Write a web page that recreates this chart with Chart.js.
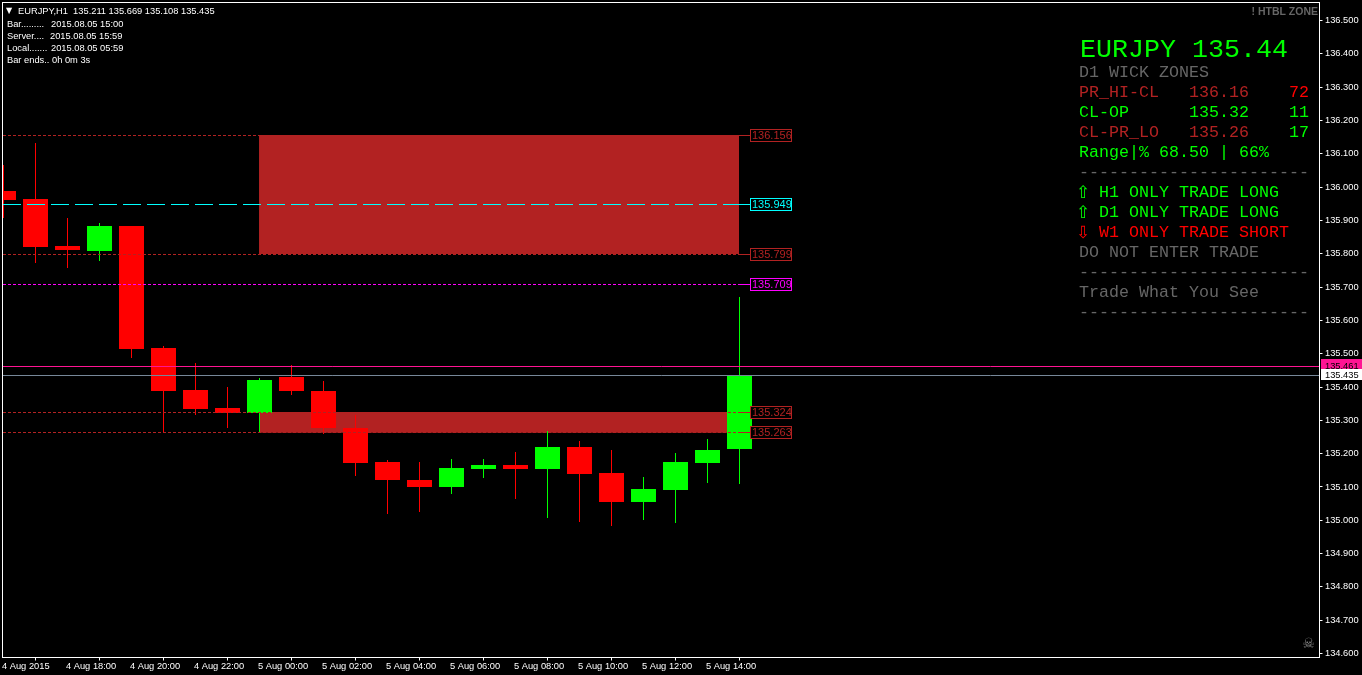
<!DOCTYPE html>
<html>
<head>
<meta charset="utf-8">
<title>EURJPY,H1</title>
<script src="https://cdn.jsdelivr.net/npm/chart.js@4/dist/chart.umd.min.js"></script>
<style>
  html, body { margin: 0; padding: 0; background: #000; overflow: hidden; }
  canvas { display: block; }
</style>
</head>
<body>
<canvas id="mtChart" width="1362" height="675"></canvas>
<script>
// H1 bars, oldest first. Index 0 is the 16:00 bar cut by the left edge.
const opens  = [135.987, 135.963, 135.822, 135.807, 135.882, 135.516, 135.390, 135.336, 135.321, 135.429, 135.387, 135.276,
                135.173, 135.119, 135.098, 135.152, 135.164, 135.152, 135.218, 135.140, 135.053, 135.089, 135.170, 135.211];
const highs  = [136.065, 136.131, 135.906, 135.891, 135.883, 135.522, 135.471, 135.399, 135.426, 135.465, 135.417, 135.315,
                135.179, 135.173, 135.182, 135.182, 135.203, 135.267, 135.237, 135.209, 135.128, 135.200, 135.242, 135.669];
const lows   = [135.907, 135.772, 135.757, 135.778, 135.487, 135.260, 135.315, 135.276, 135.260, 135.375, 135.258, 135.131,
                135.017, 135.023, 135.077, 135.125, 135.062, 135.005, 134.993, 134.981, 134.999, 134.990, 135.110, 135.108];
const closes = [135.960, 135.819, 135.810, 135.882, 135.513, 135.387, 135.333, 135.321, 135.420, 135.387, 135.276, 135.170,
                135.119, 135.098, 135.155, 135.164, 135.152, 135.218, 135.137, 135.053, 135.092, 135.173, 135.209, 135.435];

const xTickIndex  = [0, 2, 4, 6, 8, 10, 12, 14, 16, 18, 20, 22];
const xTickLabels = ['4 Aug 2015', '4 Aug 18:00', '4 Aug 20:00', '4 Aug 22:00', '5 Aug 00:00', '5 Aug 02:00',
                     '5 Aug 04:00', '5 Aug 06:00', '5 Aug 08:00', '5 Aug 10:00', '5 Aug 12:00', '5 Aug 14:00'];
const yTicks = [136.5, 136.4, 136.3, 136.2, 136.1, 136.0, 135.9, 135.8, 135.7, 135.6, 135.5,
                135.4, 135.3, 135.2, 135.1, 135.0, 134.9, 134.8, 134.7, 134.6];

const zoneTops    = [136.156, 135.324];
const zoneBottoms = [135.799, 135.263];
const zoneFrom = 7.985;
const zoneTo   = 22.985;

const levelPrices = [136.156, 135.949, 135.799, 135.709, 135.324, 135.263];
const levelNames  = ['136.156', '135.949', '135.799', '135.709', '135.324', '135.263'];

const bidPrices = [135.461, 135.435];
const bidNames  = ['135.461', '135.435'];

const FIREBRICK = '#b22222', LIME = '#00ff00', RED = '#ff0000', DIM = '#666666';
const levelColors = [FIREBRICK, '#00ffff', FIREBRICK, '#ff00ff', FIREBRICK, FIREBRICK];
const levelDashes = [[3, 2], [18, 6], [3, 2], [3, 2], [3, 2], [3, 2]];
const bidColors = ['#ff1493', '#778899'];
const bidTagFills = ['#ff1493', '#ffffff'];

const X_MIN = -1 / 64, X_MAX = 41.125, LEVEL_END = 23.328, STUB_START = 23;
const UI_FONT = '"Liberation Sans", Arial, sans-serif';
const MONO_FONT = '"Liberation Mono", monospace';

// text, x, baseline
const headerRows = [
  ['EURJPY,H1  135.211 135.669 135.108 135.435', 18, 14],
  ['Bar.........', 7, 27], ['2015.08.05 15:00', 51, 27],
  ['Server....', 7, 39], ['2015.08.05 15:59', 50, 39],
  ['Local.......', 7, 51], ['2015.08.05 05:59', 51, 51],
  ['Bar ends..', 7, 63], ['0h 0m 3s', 52, 63],
];

// text, x, baseline, colour
const panelRows = [
  ['D1 WICK ZONES', 1079, 77, DIM],
  ['PR_HI-CL', 1079, 97, FIREBRICK], ['136.16', 1189, 97, FIREBRICK], ['72', 1289, 97, RED],
  ['CL-OP', 1079, 117, LIME], ['135.32', 1189, 117, LIME], ['11', 1289, 117, LIME],
  ['CL-PR_LO', 1079, 137, FIREBRICK], ['135.26', 1189, 137, FIREBRICK], ['17', 1289, 137, LIME],
  ['Range|% 68.50 | 66%', 1079, 157, LIME],
  ['-----------------------', 1079, 177, DIM],
  ['H1 ONLY TRADE LONG', 1099, 197, LIME],
  ['D1 ONLY TRADE LONG', 1099, 217, LIME],
  ['W1 ONLY TRADE SHORT', 1099, 237, RED],
  ['DO NOT ENTER TRADE', 1079, 257, DIM],
  ['-----------------------', 1079, 277, DIM],
  ['Trade What You See', 1079, 297, DIM],
  ['-----------------------', 1079, 317, DIM],
];
const panelArrows = [['⇧', 1076, 198, LIME], ['⇧', 1076, 218, LIME], ['⇩', 1076, 238, RED]];

const barColors = closes.map((c, i) => (c >= opens[i] ? LIME : RED));

function flatLine(price, from, to, color, dash, order) {
  return {
    type: 'line',
    data: [{ x: from, y: price }, { x: to, y: price }],
    borderColor: color,
    borderWidth: 1,
    borderDash: dash,
    pointRadius: 0,
    fill: false,
    order,
  };
}

const datasets = [];
zoneTops.forEach((top, i) => {
  datasets.push({
    type: 'line',
    isZone: true,
    data: [{ x: zoneFrom, y: top }, { x: zoneTo, y: top }],
    borderWidth: 0,
    pointRadius: 0,
    backgroundColor: FIREBRICK,
    fill: { target: { value: zoneBottoms[i] } },
    order: 6,
  });
});
datasets.push({
  type: 'bar',
  data: opens.map((_, i) => ({ x: i, y: [lows[i], highs[i]] })),
  backgroundColor: barColors,
  barThickness: 1,
  grouped: false,
  inflateAmount: 0,
  order: 5,
});
datasets.push({
  type: 'bar',
  data: opens.map((o, i) => ({ x: i, y: [o, closes[i]] })),
  backgroundColor: barColors,
  barThickness: 25,
  grouped: false,
  inflateAmount: 0,
  order: 4,
});
levelPrices.forEach((p, i) => {
  datasets.push(flatLine(p, X_MIN, LEVEL_END, levelColors[i], levelDashes[i], 2));
  datasets.push(flatLine(p, STUB_START, LEVEL_END, levelColors[i], [], 2));
});
bidPrices.forEach((p, i) => datasets.push(flatLine(p, X_MIN, X_MAX, bidColors[i], [], 1)));

// MT4 draws on whole pixels, so snap what the scales hand back
const pixelSnap = {
  id: 'pixelSnap',
  afterDatasetsUpdate(chart) {
    chart.data.datasets.forEach((ds, i) => {
      const meta = chart.getDatasetMeta(i);
      meta.data.forEach(el => {
        if (ds.type === 'bar') {
          el.y = Math.round(el.y - 0.5);
          el.base = Math.round(el.base - 0.5);
        } else {
          el.y = ds.isZone ? Math.floor(el.y) : Math.floor(el.y) + 0.5;
        }
      });
    });
  },
};

const overlay = {
  id: 'overlay',
  afterDraw(chart) {
    const { ctx, chartArea: a, scales: { x, y } } = chart;
    ctx.save();

    // frame
    ctx.strokeStyle = '#ffffff';
    ctx.lineWidth = 1;
    ctx.strokeRect(2.5, 2.5, a.right - 2.5, a.bottom - 2.5);

    // level boxes
    const boxLeft = Math.round(x.getPixelForValue(LEVEL_END));
    ctx.font = '11px ' + UI_FONT;
    ctx.textBaseline = 'alphabetic';
    ctx.textAlign = 'left';
    levelPrices.forEach((p, i) => {
      const py = Math.floor(y.getPixelForValue(p));
      ctx.fillStyle = '#000000';
      ctx.fillRect(boxLeft, py - 6, 42, 13);
      ctx.strokeStyle = levelColors[i];
      ctx.strokeRect(boxLeft + 0.5, py - 5.5, 41, 12);
      ctx.fillStyle = levelColors[i];
      ctx.fillText(levelNames[i], boxLeft + 2, py + 4);
    });

    // bid/ask tags on the price axis
    ctx.font = '9.3px ' + UI_FONT;
    bidPrices.forEach((p, i) => {
      const py = Math.floor(y.getPixelForValue(p));
      const top = i === 0 ? py - 7 : py - 6;
      ctx.fillStyle = bidTagFills[i];
      ctx.fillRect(a.right + 1.5, top, 1362 - a.right, i === 0 ? 12 : 11);
      ctx.fillStyle = '#000000';
      ctx.fillText(bidNames[i], 1325, py + 3);
    });

    // header block
    ctx.fillStyle = '#ffffff';
    ctx.font = '9.3px ' + UI_FONT;
    headerRows.forEach(r => ctx.fillText(r[0], r[1], r[2]));
    ctx.font = '8px "DejaVu Sans"';
    ctx.fillText('▼', 6, 13);

    // symbol name, indicator panel
    ctx.font = '26.67px ' + MONO_FONT;
    ctx.fillStyle = LIME;
    ctx.fillText('EURJPY 135.44', 1080, 57);
    ctx.font = '16.67px ' + MONO_FONT;
    panelRows.forEach(r => {
      ctx.fillStyle = r[3];
      ctx.fillText(r[0], r[1], r[2]);
    });
    ctx.font = '17px "DejaVu Sans"';
    panelArrows.forEach(r => {
      ctx.fillStyle = r[3];
      ctx.fillText(r[0], r[1], r[2]);
    });

    ctx.font = 'bold 10.5px ' + UI_FONT;
    ctx.fillStyle = DIM;
    ctx.textAlign = 'right';
    ctx.fillText('! HTBL ZONE', 1318, 15);

    ctx.font = '14px "DejaVu Sans"';
    ctx.fillStyle = '#888888';
    ctx.textAlign = 'center';
    ctx.fillText('☠', 1308.5, 648);

    ctx.restore();
  },
};

new Chart(document.getElementById('mtChart').getContext('2d'), {
  type: 'bar',
  data: { datasets },
  options: {
    responsive: false,
    animation: false,
    events: [],
    layout: { autoPadding: false, padding: { left: 3, top: 3, right: 0, bottom: 0 } },
    plugins: { legend: { display: false }, tooltip: { enabled: false } },
    scales: {
      x: {
        type: 'linear',
        offset: false,
        min: X_MIN,
        max: X_MAX,
        afterBuildTicks: s => { s.ticks = xTickIndex.map(value => ({ value })); },
        afterFit: s => { s.height = 17.5; s.paddingLeft = 0; s.paddingRight = 0; },
        grid: { drawOnChartArea: false, drawTicks: true, tickLength: 3, color: '#ffffff' },
        border: { display: false },
        ticks: {
          autoSkip: false,
          maxRotation: 0,
          align: 'start',
          labelOffset: -1.5,
          padding: 0,
          color: '#ffffff',
          font: { family: UI_FONT, size: 9.3 },
          callback: (v, i) => xTickLabels[i],
        },
      },
      y: {
        type: 'linear',
        position: 'right',
        min: 134.5882,
        max: 136.5525,
        afterBuildTicks: s => { s.ticks = yTicks.map(value => ({ value })); },
        afterFit: s => { s.width = 42.5; s.paddingTop = 0; s.paddingBottom = 0; },
        grid: { drawOnChartArea: false, drawTicks: true, tickLength: 3, color: '#ffffff' },
        border: { display: false },
        ticks: {
          padding: 2.5,
          color: '#ffffff',
          font: { family: UI_FONT, size: 9.3 },
          callback: v => v.toFixed(3),
        },
      },
    },
  },
  plugins: [pixelSnap, overlay],
});
</script>
</body>
</html>
